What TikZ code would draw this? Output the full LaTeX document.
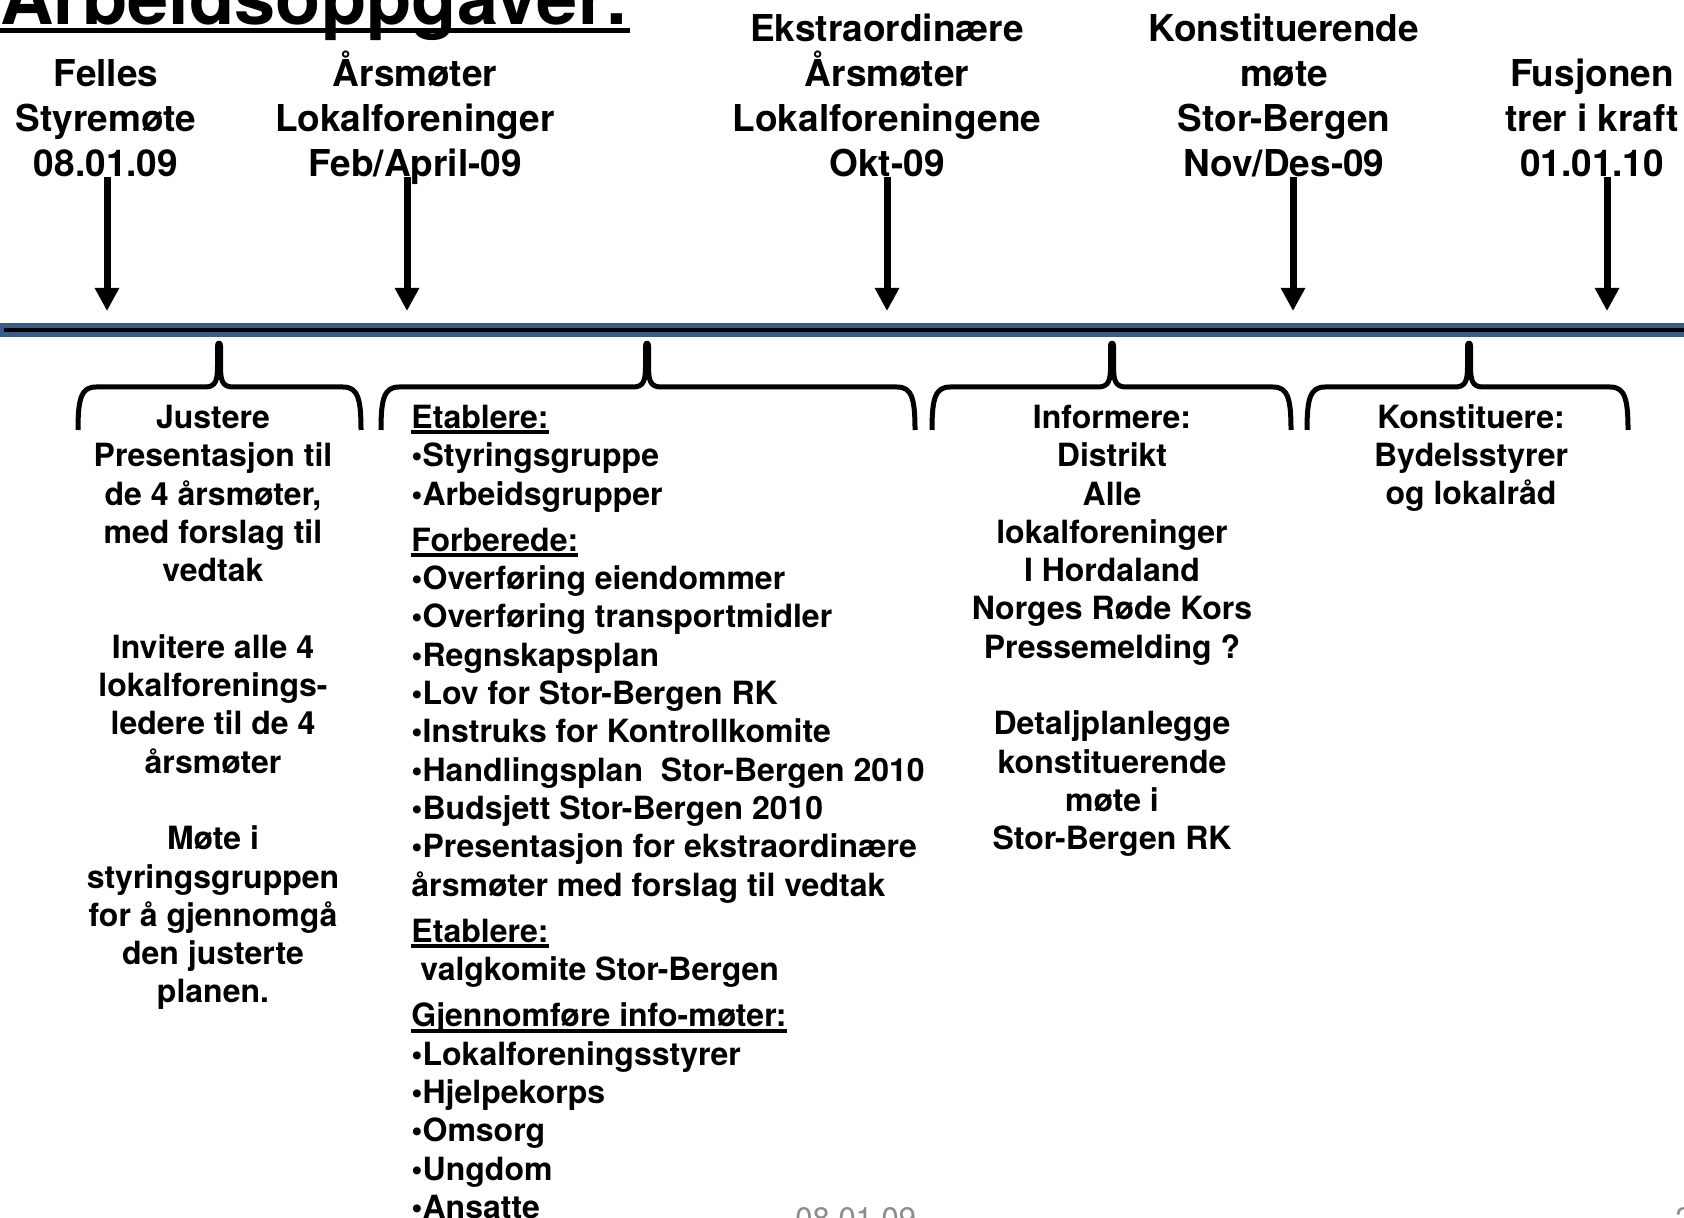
\documentclass[tikz,border=0pt]{standalone}
\usepackage{fontspec}
\setmainfont{TeX Gyre Heros}
\usetikzlibrary{arrows.meta}
\definecolor{tlblue}{HTML}{385D8A}
\definecolor{footgray}{HTML}{8C8C8C}
\newsavebox{\ulsave}
\newcommand{\ulhead}[1]{\sbox{\ulsave}{#1}\rlap{\rule[-3pt]{\wd\ulsave}{2pt}}\usebox{\ulsave}}
\newcommand{\ttlul}[1]{\sbox{\ulsave}{#1}\rlap{\rule[-4pt]{\wd\ulsave}{2.5pt}}\usebox{\ulsave}}
\newcommand{\tstrut}{\rule{0pt}{1.05em}}
\newcommand{\bracepath}[3]{%
  \draw[bracestyle] (#1,430) .. controls (#1,399) and (#1+3,387) .. (#1+18,387)
    -- (#2-14,387) .. controls (#2-3,387) and (#2-1.5,380) .. (#2-1.5,366)
    -- (#2-1.5,346) .. controls (#2-1.5,342) and (#2+1.5,342) .. (#2+1.5,346)
    -- (#2+1.5,366) .. controls (#2+1.5,380) and (#2+3,387) .. (#2+14,387)
    -- (#3-18,387) .. controls (#3-3,387) and (#3,399) .. (#3,430);}
\begin{document}
\begin{tikzpicture}[x=0.5pt,y=-0.5pt,
  hdr/.style={anchor=north, inner sep=0pt, align=center,
    font=\bfseries\fontsize{18.5pt}{22.5pt}\selectfont},
  bodyc/.style={anchor=north, inner sep=0pt, align=center,
    font=\bfseries\fontsize{16pt}{19.15pt}\selectfont},
  bodyl/.style={anchor=north west, inner sep=0pt, align=left,
    font=\bfseries\fontsize{16pt}{19.15pt}\selectfont},
  arr/.style={line width=3.5pt, -{Triangle[width=11.5pt,length=11.5pt]}},
  bracestyle/.style={line width=2.5pt, line join=round},
  foot/.style={anchor=base west, inner sep=0pt, text=footgray,
    font=\fontsize{15.5pt}{18pt}\selectfont},
]
\useasboundingbox (0,0) rectangle (1684,1218);

% title
\node[anchor=base west, inner sep=0pt, font=\bfseries\fontsize{37pt}{44pt}\selectfont]
  (title) at (0,25) {\ttlul{Arbeidsoppgaver:}};

% header milestones
\node[hdr] (h1) at (106,47) {\tstrut Felles\\Styremøte\\08.01.09};
\node[hdr] (h2) at (415,47) {\tstrut Årsmøter\\Lokalforeninger\\Feb/April-09};
\node[hdr] (h3) at (887,2) {\tstrut Ekstraordinære\\Årsmøter\\Lokalforeningene\\Okt-09};
\node[hdr] (h4) at (1284,2) {\tstrut Konstituerende\\møte\\Stor-Bergen\\Nov/Des-09};
\node[hdr] (h5) at (1592,47) {\tstrut Fusjonen\\trer i kraft\\01.01.10};

% timeline
\coordinate (tlL) at (0,330);
\coordinate (tlR) at (1684,330);
\coordinate (tlLi) at (4,330);
\draw[tlblue, line width=7pt] (tlL) -- (tlR);
\draw[black, line width=1.6pt] (tlLi) -- (tlR);

% arrows
\foreach \i/\x in {1/107,2/407,3/887,4/1293,5/1607}{
  \coordinate (s\i) at (\x,177);
  \coordinate (e\i) at (\x,311);
  \draw[arr] (s\i) -- (e\i);
}

% braces
\bracepath{78}{219}{361}
\bracepath{381}{647}{915}
\bracepath{932}{1112}{1291}
\bracepath{1307}{1469}{1628}

% body texts
\node[bodyc] (b1) at (213,394.4) {\tstrut Justere\\Presentasjon til\\de 4 årsmøter,\\med forslag til\\vedtak\\[19.15pt]
Invitere alle 4\\lokalforenings-\\ledere til de 4\\årsmøter\\[19.15pt]
Møte i\\styringsgruppen\\for å gjennomgå\\den justerte\\planen.};

\node[bodyl] (b2) at (411,394.4) {\tstrut\ulhead{Etablere:}\\•Styringsgruppe\\•Arbeidsgrupper\\[4pt]
\ulhead{Forberede:}\\•Overføring eiendommer\\•Overføring transportmidler\\•Regnskapsplan\\•Lov for Stor-Bergen RK\\•Instruks for Kontrollkomite\\•Handlingsplan\ \ Stor-Bergen 2010\\•Budsjett Stor-Bergen 2010\\•Presentasjon for ekstraordinære\\årsmøter med forslag til vedtak\\[4pt]
\ulhead{Etablere:}\\\hspace{4.5pt}valgkomite Stor-Bergen\\[4pt]
\ulhead{Gjennomføre info-møter:}\\•Lokalforeningsstyrer\\•Hjelpekorps\\•Omsorg\\•Ungdom\\•Ansatte};

\node[bodyc] (b3) at (1112,394.4) {\tstrut Informere:\\Distrikt\\Alle\\lokalforeninger\\I Hordaland\\Norges Røde Kors\\Pressemelding ?\\[19.15pt]
Detaljplanlegge\\konstituerende\\møte i\\Stor-Bergen RK};

\node[bodyc] (b4) at (1471,394.4) {\tstrut Konstituere:\\Bydelsstyrer\\og lokalråd};

% footer
\node[foot] (fdate) at (795,1229) {08.01.09};
\node[foot] (fpage) at (1675,1229) {2};
\end{tikzpicture}
\end{document}
